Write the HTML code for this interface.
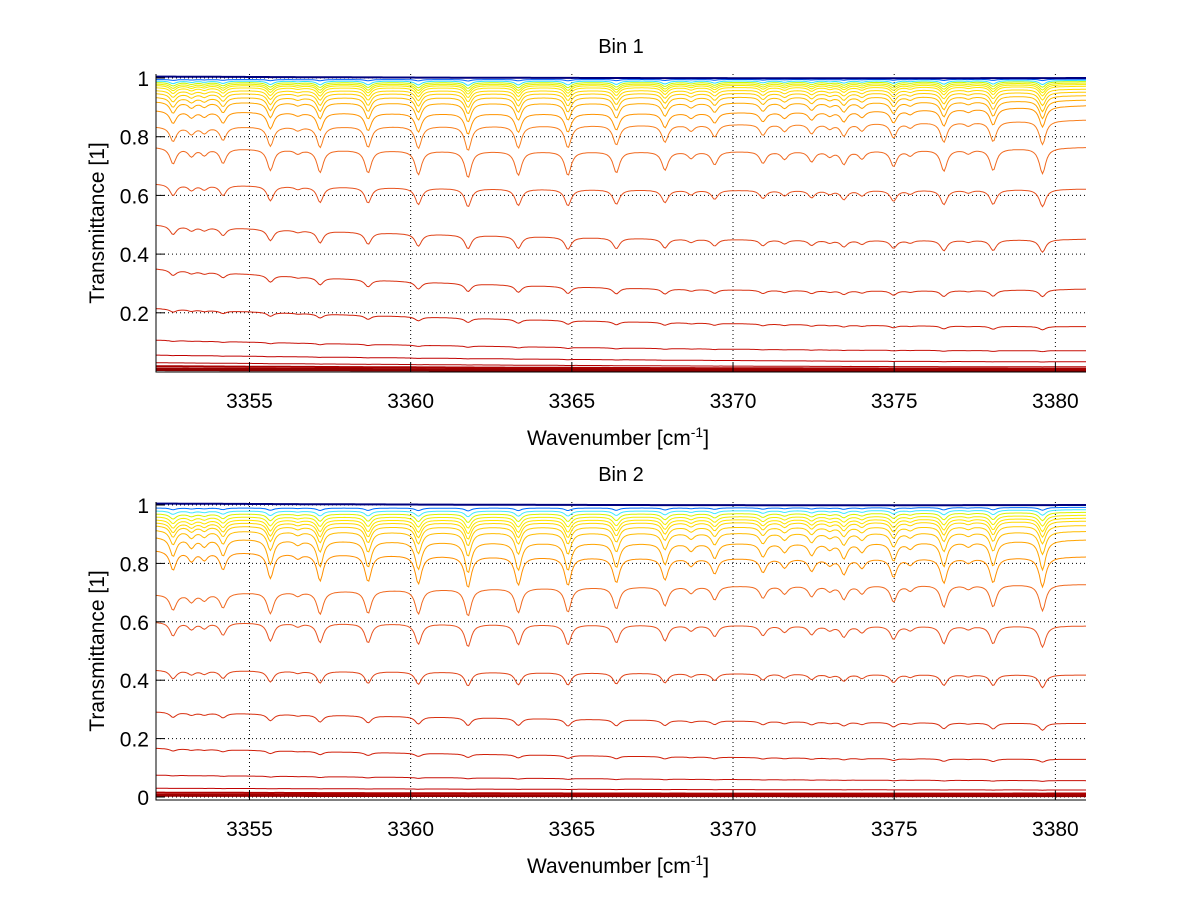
<!DOCTYPE html>
<html><head><meta charset="utf-8"><style>
body{margin:0;background:#fff;}
svg{display:block;font-family:"Liberation Sans",sans-serif;}
</style></head><body>
<svg id="fig" width="1200" height="901" viewBox="0 0 1200 901" xmlns="http://www.w3.org/2000/svg">
<rect width="1200" height="901" fill="#fff"/>
</svg>
<script>
// ---- data ----
const xTicks = [3355, 3360, 3365, 3370, 3375, 3380];
const yTicksTop = [0.2, 0.4, 0.6, 0.8, 1];
const yTicksBot = [0, 0.2, 0.4, 0.6, 0.8, 1];
const linePos = [3352.63,3353.2,3353.6,3354.18,3355.65,3356.5,3357.19,3358.68,3360.24,3361.78,3363.34,3364.88,3366.38,3367.89,3368.7,3369.43,3370.93,3371.6,3372.44,3373.0,3373.44,3374.0,3374.98,3375.5,3376.54,3377.3,3378.07,3379.6];
const lineStr = [0.6,0.3,0.25,0.55,0.8,0.15,0.85,0.85,0.9,1.0,0.9,0.9,0.8,0.7,0.25,0.5,0.45,0.3,0.4,0.2,0.5,0.3,0.6,0.2,0.8,0.15,0.8,0.95];
const bin1Start = [1.005,0.995,0.99,0.985,0.98,0.975,0.968,0.958,0.948,0.935,0.92,0.89,0.835,0.765,0.64,0.50,0.35,0.215,0.107,0.056,0.03,0.018,0.01,0.005];
const bin1Mid   = [1.0,0.995,0.99,0.985,0.98,0.975,0.968,0.958,0.948,0.935,0.915,0.88,0.84,0.75,0.62,0.455,0.285,0.17,0.08,0.04,0.02,0.012,0.007,0.003];
const bin1End   = [1.0,0.996,0.992,0.988,0.983,0.978,0.972,0.962,0.952,0.94,0.925,0.906,0.857,0.764,0.622,0.451,0.281,0.153,0.071,0.033,0.016,0.01,0.006,0.003];
const bin1Depth = [0,0.005,0.015,0.02,0.025,0.03,0.035,0.04,0.05,0.06,0.07,0.08,0.1,0.12,0.1,0.1,0.09,0.08,0.05,0.03,0.02,0,0,0];
const bin2Start = [1.005,0.99,0.98,0.97,0.96,0.95,0.94,0.93,0.915,0.891,0.846,0.694,0.60,0.435,0.292,0.167,0.075,0.03,0.015,0.008,0.004];
const bin2Mid   = [1.0,0.99,0.98,0.97,0.96,0.95,0.94,0.925,0.905,0.87,0.82,0.72,0.59,0.425,0.265,0.14,0.062,0.026,0.012,0.006,0.003];
const bin2End   = [1.0,0.992,0.984,0.975,0.965,0.955,0.945,0.93,0.91,0.881,0.823,0.728,0.586,0.418,0.252,0.129,0.056,0.024,0.012,0.006,0.003];
const bin2Depth = [0,0.01,0.02,0.03,0.04,0.05,0.06,0.07,0.09,0.12,0.13,0.13,0.13,0.11,0.1,0.08,0.05,0.03,0.02,0,0];

const colors1 = ['#00007f','#0060ff','#30e0ff','#c8f800','#e8f000','#f4ec00','#ffe400','#ffd800','#ffcc00','#ffbc00','#ffa800','#ff9400','#f88020','#f06a20','#e85420','#e04418','#d83010','#d01e08','#c81008','#c00000','#b40000','#a80000','#980000','#880000'];
const colors2 = ['#00007f','#0070ff','#40e8ff','#d8f400','#f4ec00','#ffe400','#ffd800','#ffcc00','#ffbc00','#ffa400','#ff9000','#f06a20','#e85420','#e04418','#d83010','#d01e08','#c81008','#c00000','#b00000','#a00000','#900000'];

const XMIN = 3352.1, XMAX = 3380.95, AXL = 156, AXR = 1086;
const NS = 'http://www.w3.org/2000/svg';
const svg = document.getElementById('fig');
function el(tag, attrs, parent){const e=document.createElementNS(NS,tag);for(const k in attrs)e.setAttribute(k,attrs[k]);(parent||svg).appendChild(e);return e;}
const xs = v => AXL + (v - XMIN) / (XMAX - XMIN) * (AXR - AXL);

function baseline(s,m,e,w){
  const t=(w-XMIN)/(XMAX-XMIN);
  return s*(1-t)*(1-2*t)+m*4*t*(1-t)+e*t*(2*t-1);
}
function absorb(w){
  let a=0;const g=0.12;
  for(let i=0;i<linePos.length;i++){const d=(w-linePos[i])/g;a+=lineStr[i]/(1+d*d);}
  return a;
}

function drawPanel(name, top, bottom, ymin, ymax, yTicks, yTickText, starts, mids, ends, depths, cols, title){
  const ys = v => bottom - (v - ymin)/(ymax - ymin)*(bottom-top);
  const g = el('g',{});
  
  
  const grid = el('g',{stroke:'#000','stroke-width':1,'stroke-dasharray':'1,3'},g);
  
  
  xTicks.forEach(t=>el('line',{x1:xs(t),x2:xs(t),y1:top,y2:bottom},grid));
  yTicks.forEach(t=>{ if(t>ymin+1e-6) el('line',{x1:AXL,x2:AXR,y1:ys(t),y2:ys(t)},grid);});
  const cg = el('g',{fill:'none','stroke-width':1},g);
  
  
  for(let c=starts.length-1;c>=0;c--){
    let d='';
    for(let w=XMIN; w<=XMAX+1e-9; w+=0.05){
      let v=baseline(starts[c],mids[c],ends[c],w)*(1-depths[c]*Math.min(absorb(w),1.4));
      v=Math.max(ymin,Math.min(ymax,v));
      d+=(d?'L':'M')+xs(w).toFixed(1)+','+ys(v).toFixed(1);
    }
    const sw = (c===0 || starts[c]<0.02) ? 2 : 1;
    const p=el('path',{d:d,stroke:cols[c],'stroke-width':sw},cg);
    
    
  }
  const ax = el('g',{stroke:'#000','stroke-width':1},g);
  
  
  el('line',{x1:AXL,x2:AXL,y1:top,y2:bottom+0.5},ax);
  el('line',{x1:AXL,x2:AXR,y1:bottom,y2:bottom},ax);
  xTicks.forEach(t=>el('line',{x1:xs(t),x2:xs(t),y1:bottom,y2:bottom-9},ax));
  yTicks.forEach(t=>el('line',{x1:AXL,x2:AXL+9,y1:ys(t),y2:ys(t)},ax));
  xTicks.forEach(t=>{const e=el('text',{x:xs(t),y:bottom+36,'text-anchor':'middle','font-size':21},g);e.textContent=t;
    
    });
  yTicks.forEach((t,i)=>{const e=el('text',{x:149,y:ys(t)+8,'text-anchor':'end','font-size':21},g);e.textContent=yTickText[i];
    
    });
  const tt=el('text',{x:621,y:top-21,'text-anchor':'middle','font-size':20},g);tt.textContent=title;
  
  
  const xl=el('text',{x:618,y:bottom+73,'text-anchor':'middle','font-size':21},g);
  xl.innerHTML='Wavenumber [cm<tspan dy="-8" font-size="14">-1</tspan><tspan dy="8">]</tspan>';
  
  
  const cy=(top+bottom)/2;
  const yl=el('text',{x:0,y:0,'text-anchor':'middle','font-size':21,transform:'translate(104,'+cy+') rotate(-90)'},g);
  yl.textContent='Transmittance [1]';
  
  
}
drawPanel('bin1-chart',74,372,-0.0017,1.0137,yTicksTop,['0.2','0.4','0.6','0.8','1'],bin1Start,bin1Mid,bin1End,bin1Depth,colors1,'Bin 1');
drawPanel('bin2-chart',502,800,-0.0103,1.0103,yTicksBot,['0','0.2','0.4','0.6','0.8','1'],bin2Start,bin2Mid,bin2End,bin2Depth,colors2,'Bin 2');
</script>
</body></html>
